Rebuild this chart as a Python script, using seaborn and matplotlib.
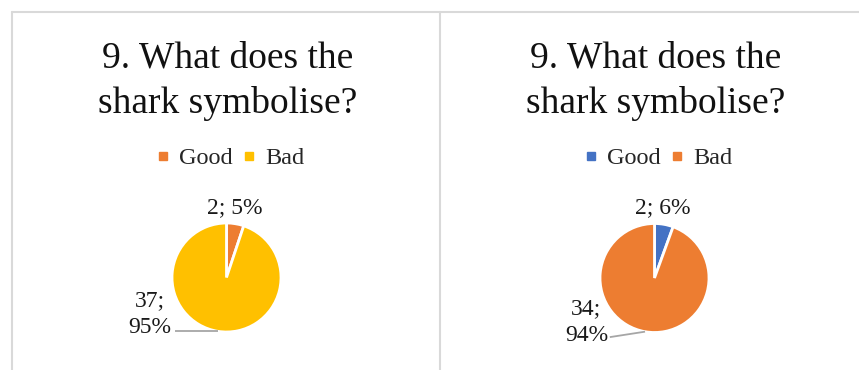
import numpy as np
import pandas as pd
import seaborn as sns
import matplotlib
matplotlib.use("Agg")
import matplotlib.pyplot as plt
from matplotlib.lines import Line2D

# ---- data ----
categories = ["Good", "Bad"]
left_values = [2, 37]
left_pcts = ["5%", "95%"]
right_values = [2, 34]
right_pcts = ["6%", "94%"]
title = "9. What does the\nshark symbolise?"
left_colors = ["#ED7D31", "#FFC000"]
right_colors = ["#4472C4", "#ED7D31"]

sns.set_theme(style="white")
plt.rcParams['font.family'] = ['Liberation Serif', 'DejaVu Serif']

W, H = 859, 370
fig = plt.figure(figsize=(W / 100, H / 100), dpi=100)
fig.patch.set_facecolor("white")

# panel borders
border = "#d9d9d9"
fig.add_artist(Line2D([12 / W, 1], [1 - 12 / H, 1 - 12 / H], color=border, lw=1.5))
fig.add_artist(Line2D([12 / W, 12 / W], [0, 1 - 12 / H], color=border, lw=1.5))
fig.add_artist(Line2D([440 / W, 440 / W], [0, 1 - 12 / H], color=border, lw=1.5))

R = 54.5  # pie radius in pixels


def panel(cx, cy, values, pcts, colors, big_lab_off, leader_start_x, leader_dy):
    df = pd.DataFrame({"cat": categories, "val": values, "pct": pcts})
    x0, x1 = cx - 2.2 * R, cx + 2.2 * R
    yb = H - cy
    y0, y1 = yb - 1.6 * R, yb + 1.6 * R
    ax = fig.add_axes([x0 / W, y0 / H, (x1 - x0) / W, (y1 - y0) / H])
    wedges, _ = ax.pie(df["val"], colors=colors, startangle=90, counterclock=False,
                       radius=1.0, wedgeprops=dict(edgecolor="white", linewidth=2))
    ax.set_xlim(-2.2, 2.2)
    ax.set_ylim(-1.6, 1.6)
    ax.set_aspect("auto")
    ax.axis("off")

    ax.text(0.16, 1.29, f"{df['val'][0]}; {df['pct'][0]}", ha="center", va="center",
            fontsize=17, color="#1a1a1a")
    w = wedges[1]
    mid = np.deg2rad((w.theta1 + w.theta2) / 2)
    px, py = np.cos(mid), np.sin(mid)
    ax.text(big_lab_off[0], big_lab_off[1], f"{df['val'][1]};\n{df['pct'][1]}",
            ha="center", va="center", fontsize=17, color="#1a1a1a",
            linespacing=1.4)
    ax.plot([leader_start_x, px], [py + leader_dy, py], color="#a6a6a6", lw=1.3,
            solid_capstyle="butt")

    fig.text(cx / W + 1 / W, 1 - 81 / H, title, ha="center", va="center", fontsize=27,
             color="#111111", linespacing=1.38)
    handles = [Line2D([], [], marker="s", linestyle="", color=c, markersize=5.5)
               for c in colors]
    fig.legend(handles, categories, loc="center", ncol=2,
               bbox_to_anchor=(cx / W + 4 / W, 1 - 158 / H), frameon=False,
               fontsize=17.5, handlelength=0.5, handletextpad=0.4,
               columnspacing=0.45, borderpad=0)


panel(226.5, 277.5, left_values, left_pcts, left_colors, (-1.41, -0.67), -0.945, 0.0)
panel(654.5, 278.0, right_values, right_pcts, right_colors, (-1.25, -0.81), -0.82, -0.1)

fig.savefig("out.png", dpi=100, facecolor="white")
